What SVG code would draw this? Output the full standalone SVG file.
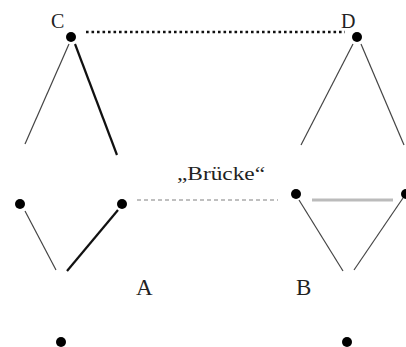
<svg xmlns="http://www.w3.org/2000/svg" width="406" height="347" viewBox="0 0 406 347">
<style>
.lbl{font-family:"Liberation Serif","DejaVu Serif","Times New Roman",serif;fill:#222}
.dot{fill:#000}
.thin{stroke:#444;stroke-width:1.2;fill:none}
.thick{stroke:#111;stroke-width:2.2;fill:none}
</style>
<rect width="406" height="347" fill="#fff"/>
<g id="connectors">
<line x1="86" y1="32" x2="345" y2="32" stroke="#111" stroke-width="2.6" stroke-dasharray="2.6 2.9"/>
<line x1="69" y1="44" x2="25" y2="144" class="thin"/>
<line x1="75" y1="44" x2="117" y2="155" class="thick"/>
<line x1="353" y1="44" x2="301" y2="145" class="thin"/>
<line x1="361" y1="44" x2="404" y2="145" class="thin"/>
<line x1="137" y1="200" x2="278" y2="200" stroke="#aaa" stroke-width="1.5" stroke-dasharray="4 3"/>
<line x1="312" y1="200" x2="393" y2="200" stroke="#bbb" stroke-width="3"/>
<line x1="25" y1="211" x2="56" y2="270" class="thin"/>
<line x1="118" y1="210" x2="67" y2="271" class="thick"/>
<line x1="299" y1="200" x2="343" y2="271" class="thin"/>
<line x1="403" y1="198" x2="354" y2="270" class="thin"/>
</g>
<g id="C"><circle class="dot" cx="71" cy="37" r="5"/><text class="lbl" x="51" y="28" font-size="20">C</text></g>
<g id="D"><circle class="dot" cx="357" cy="37" r="5"/><text class="lbl" x="341" y="28" font-size="20">D</text></g>
<g id="n1"><circle class="dot" cx="20" cy="204" r="5"/></g>
<g id="n2"><circle class="dot" cx="122" cy="204" r="5"/></g>
<g id="n3"><circle class="dot" cx="296" cy="194" r="5"/></g>
<g id="n4"><circle class="dot" cx="406" cy="194" r="5"/></g>
<g id="n5"><circle class="dot" cx="61" cy="342" r="5"/></g>
<g id="n6"><circle class="dot" cx="347" cy="342" r="5"/></g>
<g id="bridge"><text class="lbl" x="177" y="180" font-size="19" textLength="88" lengthAdjust="spacingAndGlyphs">„Brücke“</text></g>
<g id="A"><text class="lbl" x="136" y="295" font-size="23">A</text></g>
<g id="B"><text class="lbl" x="296" y="295" font-size="23">B</text></g>
</svg>
